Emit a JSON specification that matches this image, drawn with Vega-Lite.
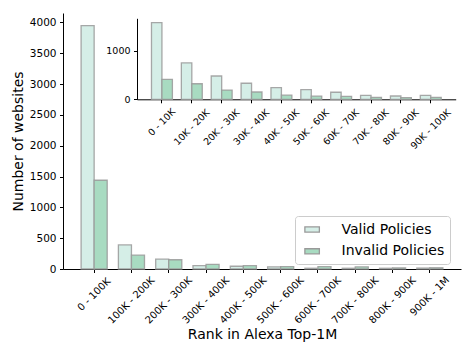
{
  "$schema": "https://vega.github.io/schema/vega-lite/v6.json",
  "width": 398,
  "height": 256,
  "autosize": {"type": "none"},
  "padding": {"left": 63, "top": 13, "right": 13, "bottom": 85},
  "datasets": {
    "main": [
      {"range": "0 - 100K", "policy": "Valid Policies", "count": 3950},
      {"range": "0 - 100K", "policy": "Invalid Policies", "count": 1440},
      {"range": "100K - 200K", "policy": "Valid Policies", "count": 390},
      {"range": "100K - 200K", "policy": "Invalid Policies", "count": 225},
      {"range": "200K - 300K", "policy": "Valid Policies", "count": 160},
      {"range": "200K - 300K", "policy": "Invalid Policies", "count": 150},
      {"range": "300K - 400K", "policy": "Valid Policies", "count": 55},
      {"range": "300K - 400K", "policy": "Invalid Policies", "count": 75},
      {"range": "400K - 500K", "policy": "Valid Policies", "count": 45},
      {"range": "400K - 500K", "policy": "Invalid Policies", "count": 55},
      {"range": "500K - 600K", "policy": "Valid Policies", "count": 35},
      {"range": "500K - 600K", "policy": "Invalid Policies", "count": 40},
      {"range": "600K - 700K", "policy": "Valid Policies", "count": 12},
      {"range": "600K - 700K", "policy": "Invalid Policies", "count": 38},
      {"range": "700K - 800K", "policy": "Valid Policies", "count": 12},
      {"range": "700K - 800K", "policy": "Invalid Policies", "count": 35},
      {"range": "800K - 900K", "policy": "Valid Policies", "count": 12},
      {"range": "800K - 900K", "policy": "Invalid Policies", "count": 18},
      {"range": "900K - 1M", "policy": "Valid Policies", "count": 15},
      {"range": "900K - 1M", "policy": "Invalid Policies", "count": 20}
    ],
    "inset": [
      {"range": "0 - 10K", "policy": "Valid Policies", "count": 1580},
      {"range": "0 - 10K", "policy": "Invalid Policies", "count": 410},
      {"range": "10K - 20K", "policy": "Valid Policies", "count": 750},
      {"range": "10K - 20K", "policy": "Invalid Policies", "count": 320},
      {"range": "20K - 30K", "policy": "Valid Policies", "count": 480},
      {"range": "20K - 30K", "policy": "Invalid Policies", "count": 190},
      {"range": "30K - 40K", "policy": "Valid Policies", "count": 330},
      {"range": "30K - 40K", "policy": "Invalid Policies", "count": 150},
      {"range": "40K - 50K", "policy": "Valid Policies", "count": 240},
      {"range": "40K - 50K", "policy": "Invalid Policies", "count": 85},
      {"range": "50K - 60K", "policy": "Valid Policies", "count": 200},
      {"range": "50K - 60K", "policy": "Invalid Policies", "count": 65},
      {"range": "60K - 70K", "policy": "Valid Policies", "count": 145},
      {"range": "60K - 70K", "policy": "Invalid Policies", "count": 60},
      {"range": "70K - 80K", "policy": "Valid Policies", "count": 82},
      {"range": "70K - 80K", "policy": "Invalid Policies", "count": 41},
      {"range": "80K - 90K", "policy": "Valid Policies", "count": 68},
      {"range": "80K - 90K", "policy": "Invalid Policies", "count": 33},
      {"range": "90K - 100K", "policy": "Valid Policies", "count": 82},
      {"range": "90K - 100K", "policy": "Invalid Policies", "count": 41}
    ]
  },
  "config": {
    "font": "DejaVu Sans",
    "view": {"stroke": null},
    "axis": {
      "grid": false,
      "domainColor": "#000000",
      "domainWidth": 1,
      "tickColor": "#000000",
      "tickWidth": 1,
      "tickSize": 3.5,
      "labelColor": "#000000",
      "titleColor": "#000000",
      "titleFontWeight": "normal",
      "titleFontSize": 14,
      "labelFont": "DejaVu Sans",
      "titleFont": "DejaVu Sans"
    }
  },
  "layer": [
    {
      "data": {"name": "main"},
      "mark": {"type": "bar", "stroke": "#999999", "strokeWidth": 1.3, "strokeOpacity": 0.85},
      "encoding": {
        "x": {
          "field": "range",
          "type": "nominal",
          "sort": null,
          "scale": {"paddingInner": 0.3, "paddingOuter": 0.485},
          "axis": {
            "orient": "bottom",
            "title": "Rank in Alexa Top-1M",
            "labelAngle": -45,
            "labelAlign": "center",
            "labelBaseline": "middle",
            "labelFontSize": 10,
            "labelPadding": {
              "condition": [
                {"test": "datum.value === '0 - 100K'", "value": 21.5},
                {"test": "datum.value === '900K - 1M'", "value": 23.5}
              ],
              "value": 27.5
            },
            "titleBaseline": "alphabetic",
            "titleY": 69.4
          }
        },
        "xOffset": {
          "field": "policy",
          "type": "nominal",
          "sort": ["Valid Policies", "Invalid Policies"]
        },
        "y": {
          "field": "count",
          "type": "quantitative",
          "scale": {"domain": [0, 4154], "nice": false},
          "axis": {
            "orient": "left",
            "title": "Number of websites",
            "format": "d",
            "values": [0, 500, 1000, 1500, 2000, 2500, 3000, 3500, 4000],
            "labelFontSize": 10.5,
            "labelPadding": 3.5,
            "titlePadding": 4
          }
        },
        "color": {
          "field": "policy",
          "type": "nominal",
          "scale": {
            "domain": ["Valid Policies", "Invalid Policies"],
            "range": ["#d5eee7", "#a8dbc1"]
          },
          "legend": {
            "title": null,
            "orient": "none",
            "legendX": 232,
            "legendY": 203,
            "padding": 5.5,
            "rowPadding": 6.8,
            "labelFontSize": 14,
            "labelFont": "DejaVu Sans",
            "labelColor": "#000000",
            "labelOffset": 25,
            "symbolType": "M-0.5,-0.35H1.5V0.35H-0.5Z",
            "symbolSize": 210,
            "symbolStrokeColor": "#999999",
            "symbolStrokeWidth": 1.3,
            "symbolOpacity": 1,
            "strokeColor": "#cccccc",
            "cornerRadius": 3,
            "fillColor": "rgba(255,255,255,0.8)"
          }
        }
      }
    },
    {
      "data": {"name": "inset"},
      "mark": {"type": "bar", "stroke": "#999999", "strokeWidth": 1.3, "strokeOpacity": 0.85},
      "encoding": {
        "x": {
          "field": "range",
          "type": "nominal",
          "sort": null,
          "scale": {"paddingInner": 0.3, "paddingOuter": 0.485, "range": [74, 392.7]},
          "axis": {
            "orient": "bottom",
            "offset": -169.7,
            "title": null,
            "labelAngle": -45,
            "labelAlign": "center",
            "labelBaseline": "middle",
            "labelFontSize": 9.5,
            "labelPadding": {
              "condition": [
                {"test": "datum.value === '0 - 10K'", "value": 19},
                {"test": "datum.value === '90K - 100K'", "value": 26}
              ],
              "value": 24
            }
          }
        },
        "xOffset": {
          "field": "policy",
          "type": "nominal",
          "sort": ["Valid Policies", "Invalid Policies"]
        },
        "y": {
          "field": "count",
          "type": "quantitative",
          "scale": {"domain": [0, 1667], "nice": false, "range": [86.3, 5.3]},
          "axis": {
            "orient": "left",
            "offset": -74,
            "title": null,
            "format": "d",
            "values": [0, 1000],
            "labelFontSize": 9.5,
            "labelPadding": 3.5
          }
        },
        "color": {
          "field": "policy",
          "type": "nominal",
          "legend": null
        }
      }
    }
  ],
  "resolve": {
    "scale": {"x": "independent", "y": "independent", "xOffset": "independent"}
  }
}
